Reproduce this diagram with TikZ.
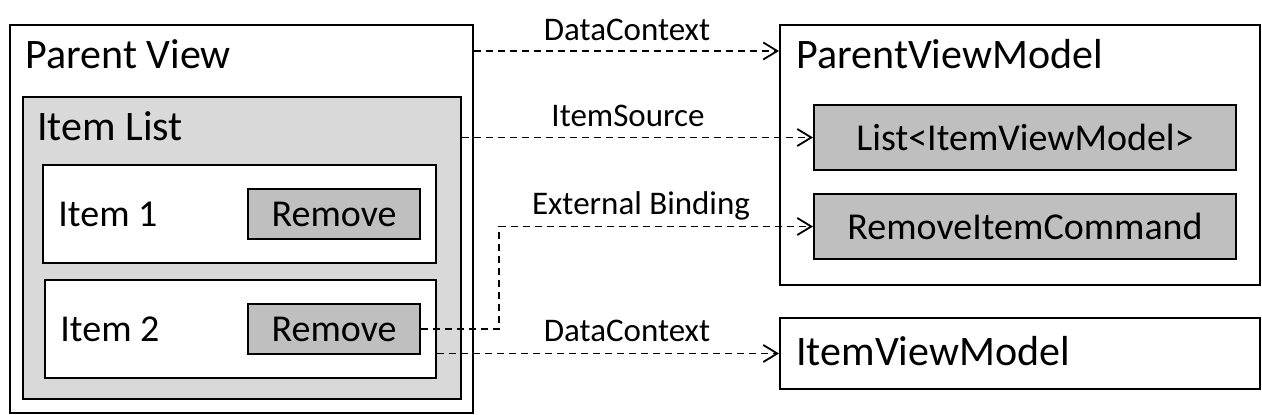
\documentclass[tikz,border=0pt]{standalone}
\usepackage{fontspec}
\setmainfont{Carlito}
\usetikzlibrary{positioning, arrows.meta, calc}
\definecolor{listgray}{RGB}{217,217,217}
\definecolor{btngray}{RGB}{191,191,191}
\tikzset{
  box/.style={rectangle, draw=black, line width=1pt, inner sep=0pt, fill=white},
  listbox/.style={box, fill=listgray},
  btnbox/.style={box, fill=btngray, font=\fontsize{19}{23}\selectfont},
  sz/.style 2 args={minimum width=#1*0.5pt, minimum height=#2*0.5pt},
  title/.style={anchor=base west, inner sep=0pt, font=\fontsize{21}{25}\selectfont},
  itemtext/.style={anchor=base west, inner sep=0pt, font=\fontsize{19}{23}\selectfont},
  bind/.style={dash pattern=on 3.5pt off 2.5pt, line width=0.9pt, -{Straight Barb[length=7pt, width=8.5pt]}},
  bindlabel/.style={anchor=base, inner sep=0pt, font=\fontsize{16.5}{20}\selectfont}
}

\begin{document}
\begin{tikzpicture}[x=0.5pt, y=-0.5pt]
    \useasboundingbox (0,0) rectangle (1262,415);

    % Vista (izquierda)
    \node[box, sz={463}{388}] (pv) at (241.5,219) {};
    \node[title] (pvtitle) at ($(pv.north west)+(16,45)$) {Parent View};
    \node[listbox, sz={438}{302}] (il) at (242,248) {};
    \node[title] (iltitle) at ($(il.north west)+(15,45)$) {Item List};

    \node[box, sz={393}{98}] (it1) at (239.5,214) {};
    \node[itemtext] (it1text) at ($(it1.west)+(16,13)$) {Item 1};
    \node[btnbox, sz={172}{50}] (rm1) at (334,214) {Remove};

    \node[box, sz={391}{98}] (it2) at (240.5,329) {};
    \node[itemtext] (it2text) at ($(it2.west)+(16,13)$) {Item 2};
    \node[btnbox, sz={172}{50}] (rm2) at (334,329) {Remove};

    % ViewModels (derecha)
    \node[box, sz={480}{260}] (pvm) at (1020,155) {};
    \node[title] (pvmtitle) at ($(pvm.north west)+(17,45)$) {ParentViewModel};
    \node[btnbox, sz={422}{65}] (lst) at (1025,137.5) {List<ItemViewModel>};
    \node[btnbox, sz={422}{65}] (ric) at (1025,226.5) {RemoveItemCommand};

    \node[box, sz={480}{71}] (ivm) at (1020,353.5) {};
    \node[title] (ivmtitle) at ($(ivm.west)+(17,12)$) {ItemViewModel};

    % Bindings
    \coordinate (dc1) at ($(pv.north east)+(0,27)$);
    \draw[bind] (dc1) -- (dc1 -| pvm.west);
    \draw[bind] (il.east |- lst.west) -- (lst.west);
    \draw[bind] (rm2.east) -- ++(78,0) |- (ric.west);
    \draw[bind] (it2.east |- ivm.west) -- (ivm.west);

    \node[bindlabel] (lbldc1) at (627,41) {DataContext};
    \node[bindlabel] (lblis) at (628,127) {ItemSource};
    \node[bindlabel] (lbleb) at (641,215) {External Binding};
    \node[bindlabel] (lbldc2) at (627,342) {DataContext};

\end{tikzpicture}
\end{document}
